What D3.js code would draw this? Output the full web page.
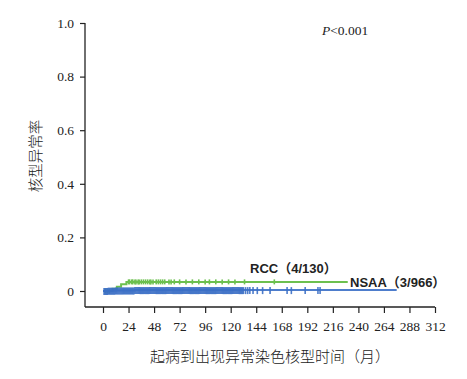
<!DOCTYPE html>
<html>
<head>
<meta charset="utf-8">
<script src="https://cdn.jsdelivr.net/npm/d3@7"></script>
<style>
  body { margin: 0; background: #fff; }
  svg { display: block; }
</style>
</head>
<body>
<div id="chart"></div>
<script>
// step curves: [month, cumulative rate]
var rccSteps = [[0, 0], [9, 0.008], [13, 0.016], [17, 0.025], [22, 0.034], [230, 0.034]];
var nsaaSteps = [[0, 0], [5, 0.001], [12, 0.002], [30, 0.0033], [276, 0.0033]];

// censored observations (months)
var rccCensor = [2, 4, 6, 24, 25, 27, 28, 30, 31, 33, 34, 36, 38, 40, 42, 44, 45, 47, 50, 52, 54, 56, 58,
  62, 64, 67, 72, 78, 84, 90, 96, 100, 106, 112, 118, 124, 133, 161];
var nsaaCensor = [1, 2, 3, 4, 5, 6, 7, 8, 9, 10, 11, 12, 13, 14, 15, 16, 17, 18, 19, 20, 21, 22, 23, 24,
  25, 26, 27, 28, 29, 30, 31, 32, 33, 34, 35, 36, 37, 38, 39, 40, 41, 42, 43, 44, 45, 46, 47, 48, 49, 50,
  51, 52, 53, 54, 55, 56, 57, 58, 59, 60, 61, 62, 63, 64, 65, 66, 67, 68, 69, 70, 71, 72, 73, 74, 75, 76,
  77, 78, 79, 80, 81, 82, 83, 84, 85, 86, 87, 88, 89, 90, 91, 92, 93, 94, 95, 96, 97, 98, 99, 100,
  101, 102, 103, 104, 105, 106, 107, 108, 109, 110, 111, 112, 113, 114, 115, 116, 117, 118, 119, 120,
  121, 122, 123, 124, 125, 126, 127, 128, 129, 130, 131, 132, 134, 136, 138, 141, 145, 150, 157,
  173, 177, 190, 202, 204];

var xTicks = [0, 24, 48, 72, 96, 120, 144, 168, 192, 216, 240, 264, 288, 312];
var yTicks = [0, 0.2, 0.4, 0.6, 0.8, 1.0];

var width = 467, height = 379;
var green = "#6cc04f", blue = "#3b6fc6";

var svg = d3.select("#chart").append("svg")
  .attr("width", width)
  .attr("height", height);

var x = d3.scaleLinear().domain([0, 312]).range([103, 435]);
var y = d3.scaleLinear().domain([0, 1]).range([291, 23]);
var axisY = 307, axisX = 85;

// y axis
var gy = svg.append("g")
  .attr("transform", "translate(" + axisX + ",0)")
  .call(d3.axisLeft(y).tickValues(yTicks).tickSize(5).tickSizeOuter(0)
    .tickFormat(function(d) { return d === 0 ? "0" : d3.format(".1f")(d); }));
gy.select(".domain").remove();
gy.append("line").attr("x1", 0).attr("x2", 0).attr("y1", y(1)).attr("y2", axisY)
  .attr("stroke", "#222").attr("stroke-width", 1.3);
gy.selectAll(".tick line").attr("stroke", "#222").attr("stroke-width", 1.2);
gy.selectAll(".tick text").attr("x", -11)
  .style("font-family", "'Liberation Serif', serif").style("font-size", "13.5px").attr("fill", "#222");

// x axis
var gx = svg.append("g")
  .attr("transform", "translate(0," + axisY + ")")
  .call(d3.axisBottom(x).tickValues(xTicks).tickSize(6).tickSizeOuter(0));
gx.select(".domain").remove();
gx.append("line").attr("x1", axisX).attr("x2", x(312)).attr("y1", 0).attr("y2", 0)
  .attr("stroke", "#222").attr("stroke-width", 1.3);
gx.selectAll(".tick line").attr("stroke", "#222").attr("stroke-width", 1.2);
gx.selectAll(".tick text").attr("y", 14)
  .style("font-family", "'Liberation Serif', serif").style("font-size", "13.5px").attr("fill", "#222");

var line = d3.line()
  .x(function(d) { return x(d[0]); })
  .y(function(d) { return y(d[1]); })
  .curve(d3.curveStepAfter);

function rateAt(steps, t) {
  var v = 0;
  steps.forEach(function(s) { if (s[0] <= t) v = s[1]; });
  return v;
}

// RCC
svg.append("path").datum(rccSteps).attr("d", line)
  .attr("fill", "none").attr("stroke", green).attr("stroke-width", 2);
svg.selectAll(".rccC").data(rccCensor).enter().append("line")
  .attr("x1", function(d) { return x(d); }).attr("x2", function(d) { return x(d); })
  .attr("y1", function(d) { return y(rateAt(rccSteps, d)) - 2.5; })
  .attr("y2", function(d) { return y(rateAt(rccSteps, d)) + 2.5; })
  .attr("stroke", green).attr("stroke-width", 1.6);

// NSAA
svg.append("path").datum(nsaaSteps).attr("d", line)
  .attr("fill", "none").attr("stroke", blue).attr("stroke-width", 2).attr("opacity", 0.9);
svg.selectAll(".nsaaC").data(nsaaCensor).enter().append("line")
  .attr("x1", function(d) { return x(d); }).attr("x2", function(d) { return x(d); })
  .attr("y1", function(d) { return y(rateAt(nsaaSteps, d)) - 3; })
  .attr("y2", function(d) { return y(rateAt(nsaaSteps, d)) + 4; })
  .attr("stroke", blue).attr("stroke-width", 1.6).attr("opacity", 0.9);

// labels
svg.append("text").attr("x", 250).attr("y", 273)
  .style("font-family", "'Liberation Sans', 'Noto Sans CJK SC', sans-serif")
  .style("font-size", "13px").style("font-weight", "bold").attr("fill", "#222")
  .text("RCC（4/130）");
svg.append("text").attr("x", 350).attr("y", 287)
  .style("font-family", "'Liberation Sans', 'Noto Sans CJK SC', sans-serif")
  .style("font-size", "13px").style("font-weight", "bold").attr("fill", "#222")
  .text("NSAA（3/966）");

var p = svg.append("text").attr("x", 322).attr("y", 35)
  .style("font-family", "'Liberation Serif', serif").style("font-size", "13.5px").attr("fill", "#222");
p.append("tspan").style("font-style", "italic").text("P");
p.append("tspan").text("<0.001");

// axis titles
svg.append("text")
  .attr("transform", "translate(41,156) rotate(-90)")
  .attr("text-anchor", "middle")
  .style("font-family", "'Noto Sans CJK SC', sans-serif").style("font-size", "14.5px")
  .style("font-weight", 300).attr("fill", "#222")
  .text("核型异常率");
svg.append("text").attr("x", 270).attr("y", 362).attr("text-anchor", "middle")
  .style("font-family", "'Noto Sans CJK SC', sans-serif").style("font-size", "15px")
  .style("font-weight", 300).attr("fill", "#222")
  .text("起病到出现异常染色核型时间（月）");
</script>
</body>
</html>
